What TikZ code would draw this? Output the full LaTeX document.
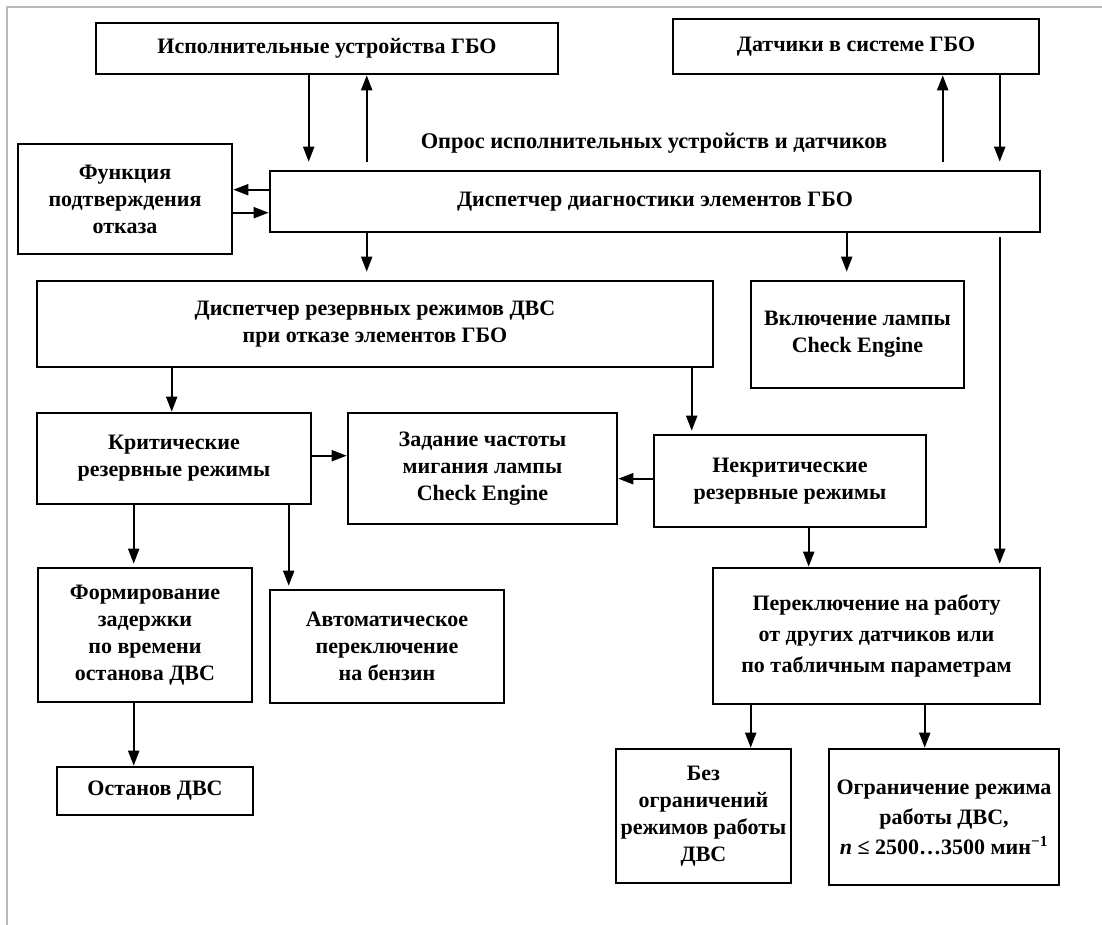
\documentclass[tikz,border=0pt]{standalone}
\usepackage{fontspec}
\setmainfont{Liberation Serif}
\usetikzlibrary{arrows.meta}
\tikzset{
  box/.style={draw, line width=2.6pt, inner sep=0pt, align=center,
    font=\bfseries\fontsize{22}{27}\selectfont},
  arr/.style={line width=2pt, -{Triangle[length=15pt,width=11pt]}},
  lbl/.style={inner sep=0pt, font=\bfseries\fontsize{22.4}{27}\selectfont},
  frame/.style={draw=gray!55, line width=1.6pt}
}
\begin{document}
\begin{tikzpicture}[x=1pt,y=-1pt]
\useasboundingbox (0,0) rectangle (1102,925);
\draw[frame] (7,925) -- (7,7) -- (1102,7);

\node[box, minimum width=462pt, minimum height=51pt] (isp) at (327,48.5) {Исполнительные устройства ГБО};
\node[box, minimum width=366pt, minimum height=55pt] (dat) at (856,46.5) {Датчики в системе ГБО};
\node[box, minimum width=770pt, minimum height=61pt] (disp) at (655,201.5) {Диспетчер диагностики элементов ГБО};
\node[box, minimum width=214pt, minimum height=110pt] (func) at (125,199) {Функция\\подтверждения\\отказа};
\node[box, minimum width=676pt, minimum height=86pt] (rez) at (375,324) {Диспетчер резервных режимов ДВС\\при отказе элементов ГБО};
\node[box, minimum width=213pt, minimum height=107pt] (vkl) at (857.5,334.5) {Включение лампы\\Check Engine};
\node[box, minimum width=274pt, minimum height=91pt] (krit) at (174,458.5) {Критические\\резервные режимы};
\node[box, minimum width=269pt, minimum height=111pt] (zad) at (482.5,468.5) {Задание частоты\\мигания лампы\\Check Engine};
\node[box, minimum width=272pt, minimum height=92pt] (nekr) at (790,481) {Некритические\\резервные режимы};
\node[box, minimum width=327pt, minimum height=136pt,
  font=\bfseries\fontsize{22}{31}\selectfont] (pere) at (876.5,636) {Переключение на работу\\от других датчиков или\\по табличным параметрам};
\node[box, minimum width=214pt, minimum height=134pt] (form) at (145,635) {Формирование\\задержки\\по времени\\останова ДВС};
\node[box, minimum width=234pt, minimum height=113pt] (avt) at (387,646.5) {Автоматическое\\переключение\\на бензин};
\node[box, minimum width=196pt, minimum height=48pt] (ost) at (155,791) {Останов ДВС};
\node[box, minimum width=175pt, minimum height=134pt] (bez) at (703.5,816) {Без\\ограничений\\режимов работы\\ДВС};
\node[box, minimum width=230pt, minimum height=136pt,
  font=\bfseries\fontsize{22}{30}\selectfont] (ogr) at (944,817) {Ограничение режима\\работы ДВС,\\\textit{n} ≤ 2500…3500 мин\textsuperscript{−1}};

\node[lbl] (opros) at (654,143) {Опрос исполнительных устройств и датчиков};

% connectors around the diagnostics dispatcher
\draw[arr, shorten >=8pt] ([xshift=214pt]isp.south west) -- ([xshift=40pt]disp.north west);
\draw[arr, shorten <=8pt] ([xshift=98pt]disp.north west) -- ([xshift=272pt]isp.south west);
\draw[arr, shorten <=8pt] ([xshift=674pt]disp.north west) -- ([xshift=271pt]dat.south west);
\draw[arr, shorten >=8pt] ([xshift=328pt]dat.south west) -- ([xshift=731pt]disp.north west);
\draw[arr] ([yshift=-20pt]disp.north west) -- ([yshift=-47pt]func.north east);
\draw[arr] ([yshift=-70pt]func.north east) -- ([yshift=-43pt]disp.north west);
\draw[arr, shorten >=8pt] ([xshift=98pt]disp.south west) -- ([xshift=331pt]rez.north west);
\draw[arr, shorten >=8pt] ([xshift=578pt]disp.south west) -- ([xshift=97pt]vkl.north west);
\draw[arr, shorten <=4pt, shorten >=3pt] ([xshift=731pt]disp.south west) -- ([xshift=288pt]pere.north west);

% reserve modes
\draw[arr] ([xshift=136pt]rez.south west) -- ([xshift=136pt]krit.north west);
\draw[arr, shorten >=3pt] ([xshift=656pt]rez.south west) -- ([xshift=39pt]nekr.north west);
\draw[arr] ([yshift=-44pt]krit.north east) -- ([yshift=-44pt]zad.north west);
\draw[arr] ([yshift=-45pt]nekr.north west) -- ([yshift=-67pt]zad.north east);
\draw[arr] ([xshift=156pt]nekr.south west) -- ([xshift=97pt]pere.north west);
\draw[arr, shorten >=3pt] ([xshift=98pt]krit.south west) -- ([xshift=97pt]form.north west);
\draw[arr, shorten >=3pt] ([xshift=253pt]krit.south west) -- ([xshift=20pt]avt.north west);
\draw[arr] ([xshift=97pt]form.south west) -- ([xshift=78pt]ost.north west);
\draw[arr] ([xshift=39pt]pere.south west) -- ([xshift=136pt]bez.north west);
\draw[arr] ([xshift=213pt]pere.south west) -- ([xshift=97pt]ogr.north west);
\end{tikzpicture}
\end{document}
